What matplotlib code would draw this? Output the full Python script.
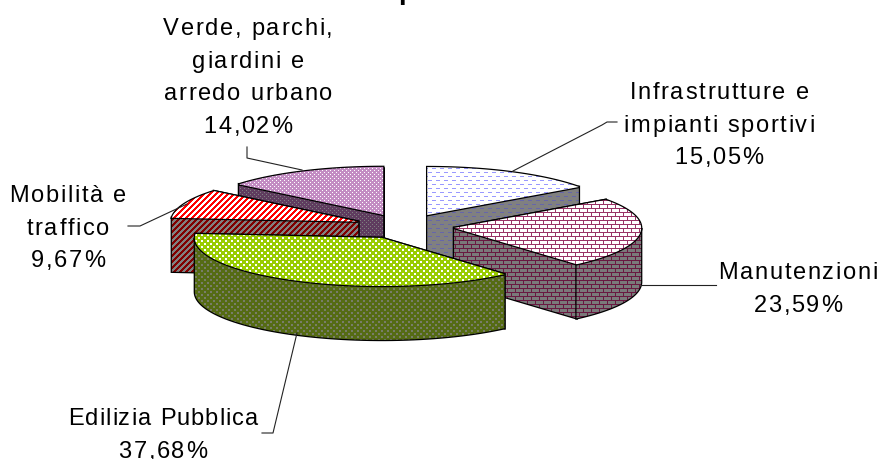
import numpy as np
import matplotlib
matplotlib.use('Agg')
import matplotlib.pyplot as plt
from matplotlib.patches import Polygon
from matplotlib.text import Text

names = ['Infrastrutture e\nimpianti sportivi', 'Manutenzioni', 'Edilizia Pubblica',
         'Mobilità e\ntraffico', 'Verde, parchi,\ngiardini e\narredo urbano']
shares = [15.05, 23.59, 37.68, 9.67, 14.02]
share_labels = ['15,05%', '23,59%', '37,68%', '9,67%', '14,02%']

W, H = 881, 459
CX, CY = 404.5, 226.5   # centre of the pie
RX, RY = 187, 48
DEPTH = 54
EXPLODE = 0.267


class SpacedText(Text):
    # excel style text, letters drawn a bit apart
    spacing = 1.8

    def draw(self, renderer):
        fp = self.get_fontproperties()
        x0, y0 = self.get_transform().transform(self.get_position())
        s = self.get_text()
        base = renderer.get_text_width_height_descent('||', fp, False)[0]
        adv = [renderer.get_text_width_height_descent('|' + c + '|', fp, False)[0] - base for c in s]
        total = sum(adv) + self.spacing * (len(s) - 1)
        x = x0 - total / 2
        gc = renderer.new_gc()
        gc.set_foreground(self.get_color())
        gc.set_antialiased(True)
        for c, a in zip(s, adv):
            renderer.draw_text(gc, x, renderer.height - y0, c, fp, 0)
            x += a + self.spacing
        gc.restore()


def put_text(ax, x, y, s, spacing=1.8):
    t = SpacedText(x, y, s, fontsize=17, family='Liberation Sans', color='black',
                   ha='center', va='baseline')
    t.spacing = spacing
    ax.add_artist(t)


def pattern(rows, colors):
    # repeat a small pixel tile over the whole canvas
    tile = np.array([[colors[c] for c in row] for row in rows], dtype=np.uint8)
    ny = H // tile.shape[0] + 1
    nx = W // tile.shape[1] + 1
    return np.tile(tile, (ny, nx, 1))[:H, :W]


dash = ['xxxx....', '........', '........', '........',
        '....xxxx', '........', '........', '........']
brick = ['xxxxxxxx', '...x....', '...x....', '...x....',
         'xxxxxxxx', '.......x', '.......x', '.......x']
dots = ['...xx.', '...xx.', '......', 'xx....', 'xx....', '......']
stripes = ['xxx...', 'xx...x', 'x...xx', '...xxx', '..xxx.', '.xxx..']
fine = ['x...', '....', '..x.', '....']

tiles = [dash, brick, dots, stripes, fine]
top_colors = [{'.': (255, 255, 255), 'x': (153, 153, 255)},
              {'.': (255, 255, 255), 'x': (153, 51, 102)},
              {'.': (153, 204, 0), 'x': (255, 255, 255)},
              {'.': (255, 255, 255), 'x': (255, 0, 0)},
              {'.': (195, 140, 195), 'x': (255, 255, 255)}]
side_colors = [{'.': (128, 128, 128), 'x': (102, 102, 170)},
               {'.': (122, 122, 122), 'x': (105, 25, 65)},
               {'.': (85, 107, 20), 'x': (120, 125, 105)},
               {'.': (128, 128, 128), 'x': (128, 0, 0)},
               {'.': (95, 60, 95), 'x': (128, 128, 128)}]

fig = plt.figure(figsize=(W / 100, H / 100), dpi=100)
ax = fig.add_axes([0, 0, 1, 1])
ax.axis('off')


def rim(ax_, ay, t):
    return np.column_stack([ax_ + RX * np.sin(t), ay - RY * np.cos(t)])


def face(points, img):
    # patterned fill clipped to the polygon, then black outline
    outline = Polygon(points, closed=True, fill=False, edgecolor='black',
                      linewidth=1.8, joinstyle='miter', zorder=order)
    ax.add_patch(outline)
    im = ax.imshow(img, extent=(0, W, H, 0), interpolation='nearest', aspect='auto', zorder=order)
    im.set_clip_path(Polygon(points, closed=True, transform=ax.transData))


def extrude(points):
    return np.vstack([points, points[::-1] + [0, DEPTH]])


edges = np.cumsum([0] + shares) / sum(shares) * 2 * np.pi
wedges = []
for i in range(len(shares)):
    t0, t1 = edges[i], edges[i + 1]
    mid = (t0 + t1) / 2
    apex = (CX + EXPLODE * RX * np.sin(mid), CY - EXPLODE * RY * np.cos(mid))
    wedges.append((apex[1], i, t0, t1, apex))

# back slices first
order = 1
for _, i, t0, t1, apex in sorted(wedges, key=lambda w: w[0]):
    top_img = pattern(tiles[i], top_colors[i])
    side_img = pattern(tiles[i], side_colors[i])
    ends = [rim(apex[0], apex[1], np.array([t]))[0] for t in (t0, t1)]
    # the cut face whose outer end sits higher on screen is further back
    for p in sorted(ends, key=lambda q: q[1]):
        face(extrude(np.array([apex, p])), side_img)
        order += 1
    lo, hi = max(t0, np.pi / 2), min(t1, 3 * np.pi / 2)
    if hi > lo:
        face(extrude(rim(apex[0], apex[1], np.linspace(lo, hi, 60))), side_img)
        order += 1
    arc = rim(apex[0], apex[1], np.linspace(t0, t1, 80))
    face(np.vstack([[apex], arc]), top_img)
    order += 1

# leader lines
leaders = [([513, 602, 607, 617], [171, 125, 122, 122]),
           ([641, 716], [285, 285]),
           ([297, 273, 262], [333, 433, 433]),
           ([187, 140, 128], [204, 226, 226]),
           ([302, 247, 247], [170, 158, 147])]
for lx, ly in leaders:
    ax.plot(lx, ly, color='#222222', linewidth=0.8, zorder=order)

# labels: x centre, baseline of first line
label_pos = [(719, 99), (798, 279), (163, 425), (68, 202), (248, 35)]
line_gap = 32.7
for name, pct, (x, y) in zip(names, share_labels, label_pos):
    lines = name.split('\n') + [pct]
    for k, line in enumerate(lines):
        sp = 1.1 if line == 'Edilizia Pubblica' else 1.7
        put_text(ax, x, y + k * line_gap, line, sp)

# the title is cut by the top edge, only this descender is left
ax.text(398.5, -1, 'p', fontsize=20, fontweight='bold', family='Liberation Sans',
        ha='left', va='baseline', color='black')

ax.set_xlim(0, W)
ax.set_ylim(H, 0)
fig.savefig('out.png', dpi=100)
